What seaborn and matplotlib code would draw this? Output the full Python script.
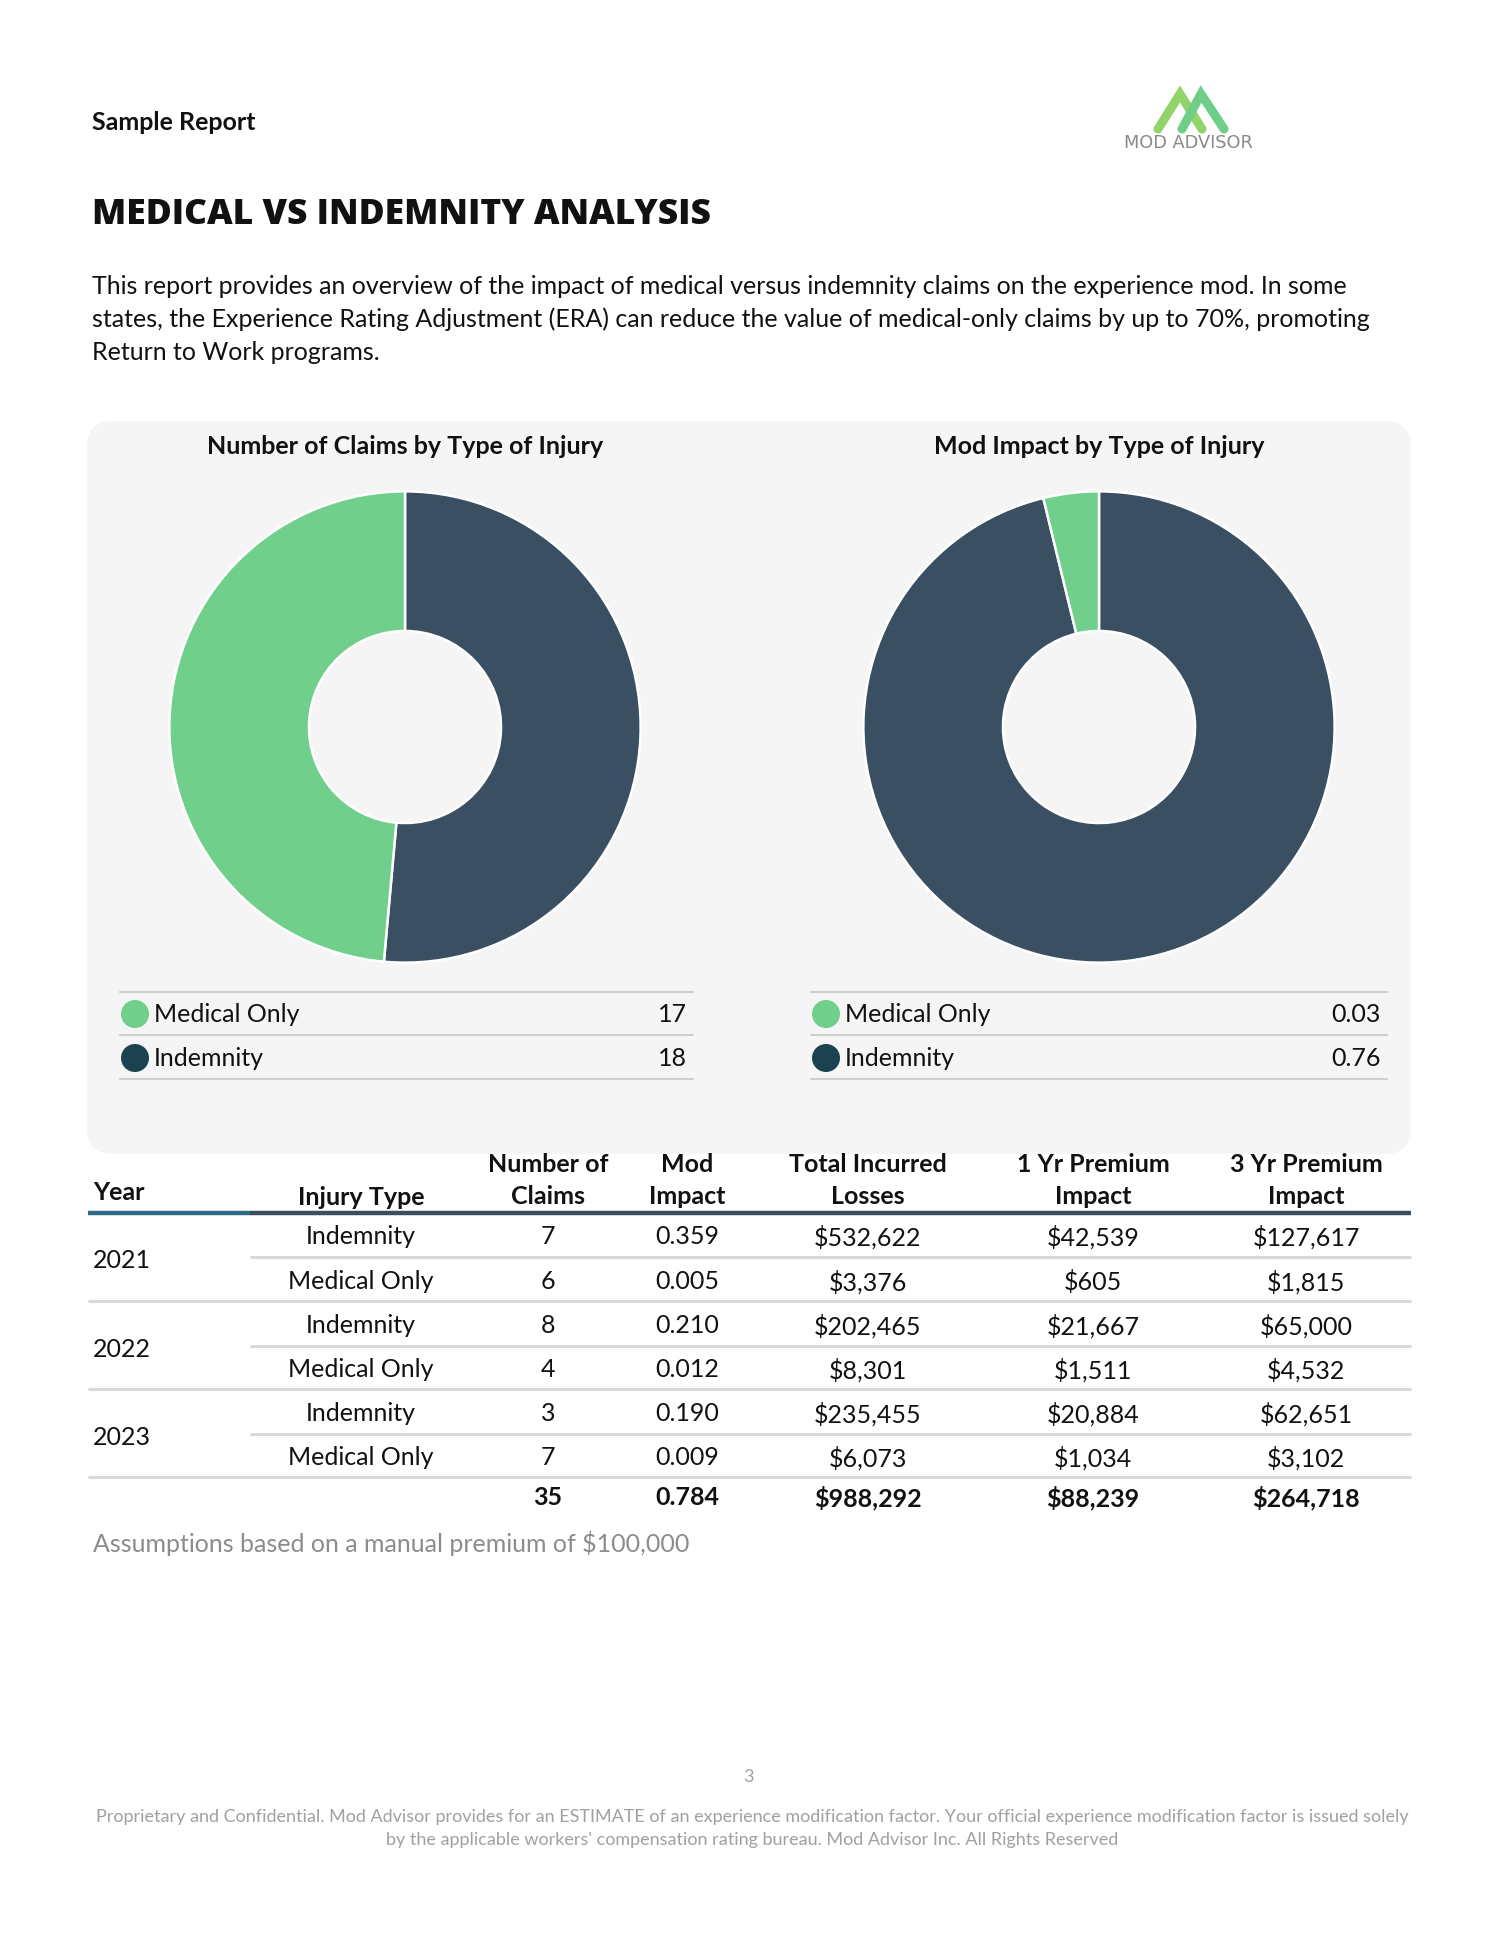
import matplotlib
matplotlib.use("Agg")
import matplotlib.pyplot as plt
from matplotlib.patches import FancyBboxPatch, Circle
import seaborn as sns

# data
injury_types = ["Medical Only", "Indemnity"]
claims_by_type = [17, 18]
mod_by_type = [0.03, 0.76]

years = ["2021", "2022", "2023"]
row_types = ["Indemnity", "Medical Only"] * 3
row_claims = [7, 6, 8, 4, 3, 7]
row_mod = [0.359, 0.005, 0.210, 0.012, 0.190, 0.009]
row_incurred = [532622, 3376, 202465, 8301, 235455, 6073]
row_prem_1yr = [42539, 605, 21667, 1511, 20884, 1034]
row_prem_3yr = [127617, 1815, 65000, 4532, 62651, 3102]
total_claims = 35
total_mod = 0.784
total_incurred = 988292
total_prem_1yr = 88239
total_prem_3yr = 264718

headers = ["Injury Type", "Number of\nClaims", "Mod\nImpact", "Total Incurred\nLosses",
           "1 Yr Premium\nImpact", "3 Yr Premium\nImpact"]

GREEN = "#6fcf8b"
DARK = "#3a5062"
DARK_DOT = "#1c4250"
INK = "#111111"
FS = 18

sns.set_theme(style="white")
plt.rcParams["font.family"] = ["Lato", "DejaVu Sans"]

W, H = 1500, 1940
fig = plt.figure(figsize=(W / 100, H / 100), dpi=100)
ax = fig.add_axes([0, 0, 1, 1])
ax.set_xlim(0, W)
ax.set_ylim(H, 0)
ax.axis("off")

# header
ax.text(92, 122, "Sample Report", fontsize=18, fontweight="bold", va="center", color=INK)
ax.plot([1158, 1180, 1202], [130, 95, 130], color="#93d46a", lw=6.5, solid_joinstyle="miter")
ax.plot([1182, 1201, 1224], [130, 95, 130], color="#6fcf8a", lw=6.5, solid_joinstyle="miter")
ax.text(1188, 143, "MOD ADVISOR", fontsize=12.8, color="#8a8a8a", ha="center", va="center",
        family=["DejaVu Sans"])

ax.text(92, 215, "MEDICAL VS INDEMNITY ANALYSIS", fontsize=25.5, fontweight="heavy",
        va="center", color=INK, family=["Open Sans", "DejaVu Sans"])
para = ["This report provides an overview of the impact of medical versus indemnity claims on the experience mod. In some",
        "states, the Experience Rating Adjustment (ERA) can reduce the value of medical-only claims by up to 70%, promoting",
        "Return to Work programs."]
for i, line in enumerate(para):
    ax.text(92, 286 + i * 33, line, fontsize=FS, va="center", color=INK)

# grey panel
ax.add_patch(FancyBboxPatch((87, 422), 1324, 733, boxstyle="round,pad=0,rounding_size=26",
                            facecolor="#f5f5f5", edgecolor="none"))

# donuts
panels = [(405, "Number of Claims by Type of Injury", claims_by_type, "{:d}", 120, 693),
          (1099, "Mod Impact by Type of Injury", mod_by_type, "{:.2f}", 811, 1387)]
for cx, title, vals, fmt, lx0, lx1 in panels:
    ax.text(cx, 446, title, fontsize=FS, fontweight="bold", ha="center", va="center", color=INK)
    r = 238
    pax = fig.add_axes([(cx - r) / W, 1 - (728 + r) / H, 2 * r / W, 2 * r / H])
    pax.pie([vals[1], vals[0]], colors=[DARK, GREEN], startangle=90, counterclock=False,
            radius=1, wedgeprops=dict(width=1 - 97 / 238, edgecolor="white", linewidth=1.8))
    pax.set_xlim(-1.01, 1.01)
    pax.set_ylim(-1.01, 1.01)
    pax.set_aspect("equal")
    pax.axis("off")

    for y in [993, 1036, 1080]:
        ax.plot([lx0, lx1], [y, y], color="#cfcfcf", lw=1.5)
    for i, (lab, v, col) in enumerate(zip(injury_types, vals, [GREEN, DARK_DOT])):
        y = 1015 + i * 44
        ax.add_patch(Circle((lx0 + 15, y), 14, facecolor=col, edgecolor="none"))
        ax.text(lx0 + 34, y, lab, fontsize=FS, va="center", color=INK)
        ax.text(lx1 - 6, y, fmt.format(v), fontsize=FS, va="center", ha="right", color=INK)

# table
col_x = [361, 548, 687, 868, 1093, 1306]
ax.text(93, 1193, "Year", fontsize=FS, fontweight="bold", va="center", color=INK)
for x, h in zip(col_x, headers):
    lines = h.split("\n")
    if len(lines) == 1:
        ax.text(x, 1198, h, fontsize=FS, fontweight="bold", ha="center", va="center", color=INK)
    else:
        ax.text(x, 1165, lines[0], fontsize=FS, fontweight="bold", ha="center", va="center", color=INK)
        ax.text(x, 1197, lines[1], fontsize=FS, fontweight="bold", ha="center", va="center", color=INK)
ax.plot([88, 250], [1214, 1214], color="#2e6a85", lw=3.2, solid_capstyle="butt")
ax.plot([250, 1411], [1214, 1214], color="#3a4f60", lw=3.2, solid_capstyle="butt")

row_y = [1237, 1282, 1326, 1370, 1414, 1458]
for i in range(6):
    y = row_y[i]
    vals = [row_types[i], f"{row_claims[i]}", f"{row_mod[i]:.3f}", f"${row_incurred[i]:,}",
            f"${row_prem_1yr[i]:,}", f"${row_prem_3yr[i]:,}"]
    for x, v in zip(col_x, vals):
        ax.text(x, y, v, fontsize=FS, ha="center", va="center", color=INK)
    if i % 2 == 0:
        ax.plot([250, 1411], [y + 21, y + 21], color="#d9d9d9", lw=2.2, solid_capstyle="butt")
    else:
        ax.plot([88, 1411], [y + 20, y + 20], color="#d9d9d9", lw=2.2, solid_capstyle="butt")
for k, yr in enumerate(years):
    ax.text(93, 1261 + k * 88.5, yr, fontsize=FS, va="center", color=INK)

totals = [f"{total_claims}", f"{total_mod:.3f}", f"${total_incurred:,}",
          f"${total_prem_1yr:,}", f"${total_prem_3yr:,}"]
for x, v in zip(col_x[1:], totals):
    ax.text(x, 1498, v, fontsize=FS, fontweight="bold", ha="center", va="center", color=INK)

ax.text(93, 1544, "Assumptions based on a manual premium of $100,000", fontsize=FS,
        va="center", color="#8c8c8c")

# footer
ax.text(748, 1777, "3", fontsize=13, ha="center", va="center", color="#a0a0a0")
ax.text(752, 1817, "Proprietary and Confidential. Mod Advisor provides for an ESTIMATE of an experience "
        "modification factor. Your official experience modification factor is issued solely",
        fontsize=13, ha="center", va="center", color="#a0a0a0")
ax.text(752, 1840, "by the applicable workers' compensation rating bureau. Mod Advisor Inc. All Rights Reserved",
        fontsize=13, ha="center", va="center", color="#a0a0a0")

fig.savefig("out.png", dpi=100, facecolor="white")
